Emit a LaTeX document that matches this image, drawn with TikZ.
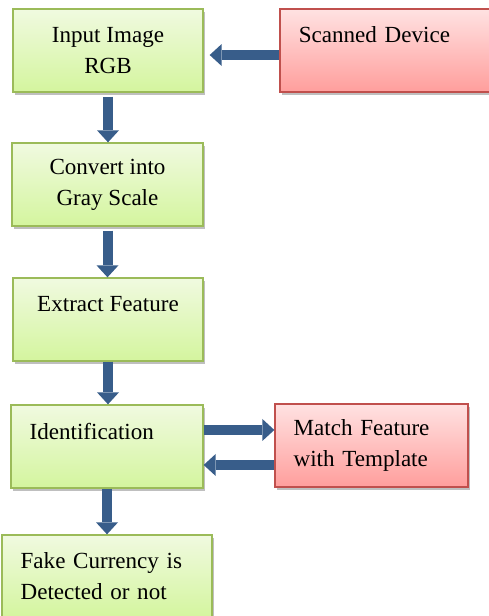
\documentclass[tikz,border=0pt]{standalone}
\usepackage{fontspec}
\setmainfont{Liberation Serif}
\usetikzlibrary{arrows.meta,shadows}

\definecolor{greenline}{RGB}{155,187,89}
\definecolor{greentop}{RGB}{240,250,224}
\definecolor{greenbot}{RGB}{212,245,158}
\definecolor{redline}{RGB}{192,80,77}
\definecolor{redtop}{RGB}{255,226,226}
\definecolor{redbot}{RGB}{255,158,156}
\definecolor{flowblue}{RGB}{56,93,138}

\begin{document}
\begin{tikzpicture}[x=0.75pt,y=-0.75pt,
  font=\fontsize{17.3}{23.25}\selectfont,
  boxbase/.style={line width=1pt,minimum height=62.25pt,inner xsep=14pt,inner ysep=0pt,
    drop shadow={shadow xshift=1.5pt,shadow yshift=-2.5pt,fill=black,opacity=0.25}},
  greenbox/.style={boxbase,draw=greenline,top color=greentop,bottom color=greenbot},
  redbox/.style={boxbase,draw=redline,top color=redtop,bottom color=redbot},
  flow/.style={draw=flowblue,line width=7.5pt,
    -{Triangle[width=16.5pt,length=9pt,line width=0pt]}}]

\useasboundingbox (0,0) rectangle (488,616);

% boxes
\node [greenbox,minimum width=142.5pt,align=center] (inp) at (108,50.5) {Input Image\\RGB};
\node [redbox,minimum width=161.25pt,text width=133pt,align=left] (scan) at (387.5,50.5) {Scanned Device\\\mbox{}};
\node [greenbox,minimum width=143.25pt,align=center] (gray) at (107.5,184.5) {Convert into\\Gray Scale};
\node [greenbox,minimum width=142.5pt,align=center] (feat) at (108,319.5) {Extract Feature\\\mbox{}};
\node [greenbox,minimum width=144pt,text width=116pt,align=left] (ident) at (107,446.5) {Identification\\\mbox{}};
\node [redbox,minimum width=144.75pt,text width=116.75pt,align=left] (match) at (371.5,445.5) {Match Feature\\with Template};
\node [greenbox,minimum width=157.5pt,text width=129.5pt,align=left] (fake) at (107,576.5) {Fake Currency is\\Detected or not};

% arrows
\draw [flow,shorten >=4.5pt] ([yshift=-3.4pt]scan.west) -- ([yshift=-3.4pt]scan.west -| inp.east);
\draw [flow,shorten <=3pt] (inp.south) -- (inp.south |- gray.north);
\draw [flow,shorten <=3pt] (gray.south) -- (gray.south |- feat.north);
\draw [flow] (feat.south) -- (feat.south |- ident.north);
\draw [flow] ([yshift=12.4pt]ident.east) -- ([yshift=12.4pt]ident.east -| match.west);
\draw [flow] ([yshift=-14.6pt]match.west) -- ([yshift=-14.6pt]match.west -| ident.east);
\draw [flow] (ident.south) -- (ident.south |- fake.north);

\end{tikzpicture}
\end{document}
